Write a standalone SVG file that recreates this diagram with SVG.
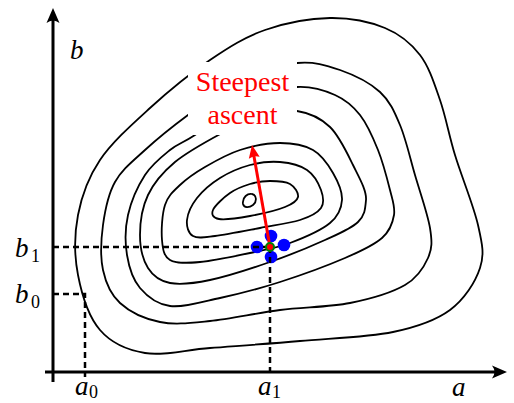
<svg xmlns="http://www.w3.org/2000/svg" width="514" height="403" viewBox="0 0 514 403">
<style>
.contour{fill:none;stroke:#000;stroke-width:1.8;stroke-linejoin:round}
.dash{fill:none;stroke:#000;stroke-width:2.5;stroke-dasharray:6 4}
.axis{fill:none;stroke:#000;stroke-width:3}
.lab{font-family:"Liberation Serif","Times New Roman",serif;font-style:italic;font-size:27px;fill:#000}
.sub{font-family:"Liberation Serif","Times New Roman",serif;font-size:18px;fill:#000}
.title{font-family:"Liberation Serif","Times New Roman",serif;font-size:28px;fill:#ff0000;text-anchor:middle}
.probe{fill:#0000ff}
</style>
<defs>
<marker id="axhead" viewBox="-8 -7 17 14" refX="0" refY="0" markerWidth="17" markerHeight="14" markerUnits="userSpaceOnUse" orient="auto"><path d="M8,0 L-7,-6.5 Q-2,0 -7,6.5 Z" fill="#000"/></marker>
<marker id="redhead" viewBox="-7 -6 15 12" refX="0" refY="0" markerWidth="15" markerHeight="12" markerUnits="userSpaceOnUse" orient="auto"><path d="M7,0 L-6,-5.5 Q-3,0 -6,5.5 Z" fill="#ff0000"/></marker>
</defs>
<g id="contours">
<path id="c7" class="contour" d="M330,18 C350,17.7 370,21.8 385,28 S410.8,43 420,55 S434.2,83.3 440,100 S448.7,134.2 455,155 S473.8,206.2 478,225 S484.7,253.8 480,268 S464.5,299.3 450,310 S418,326.8 393,332 S330.5,338.3 300,341 S235.8,346 210,348 S163.3,356 145,353 S111.2,343 100,330 S81.7,294.2 78,275 S74.3,234.2 78,215 S88,177.8 100,160 S131.7,124.7 150,108 S190.8,73 210,60 S245,37 265,30 S310,18.3 330,18 Z"/>
<path id="c6" class="contour" d="M297,63 C313.7,61.3 326.2,65.2 340,70 S370,82.8 380,92 S394.2,111.2 400,125 S410,157.8 415,175 S427.8,214.2 430,228 S432.2,248.5 428,258 S418,277.5 405,285 S370.8,298.8 350,303 S303.3,307 280,310 S230,319 210,321 S175,325 160,322 S129.5,311.7 120,303 S105.8,283 103,270 S101,239.7 103,225 S108,194.5 115,182 S132.8,161.2 145,150 S172.2,126.7 188,115 S221.8,88.7 240,80 S280.3,64.7 297,63 Z"/>
<path id="c5" class="contour" d="M297,87 C312,86.2 324.5,90.3 335,95 S352.8,105.8 360,115 S373,137.5 378,150 S387.3,179.2 390,190 S395.3,207 394,215 S390.2,230.8 382,238 S362,250.7 345,258 S300.8,275.3 280,282 S238.3,294 220,298 S183.3,307.7 170,306 S147.2,296.5 140,288 S129,267.2 127,255 S125,228.3 128,215 S138,185.8 145,175 S161.7,156.7 170,150 S182.5,143.3 195,135 S228,108 245,100 S282,87.8 297,87 Z"/>
<path id="c4" class="contour" d="M297,111 C308.7,112.8 320.7,118 330,127 S347,152.8 353,165 S366.8,190.5 366,200 S364.8,215.3 358,222 S339.7,233.3 325,240 S289.2,255.3 270,262 S226.7,276.5 210,280 S180.3,285 170,283 S153,276 148,268 S140,247.2 140,235 S142.2,207.2 148,195 S162.7,172.3 175,162 S207.8,140.7 222,133 S247.5,119.7 260,116 S285.3,109.2 297,111 Z"/>
<path id="c3" class="contour" d="M280,143 C292.2,143 304.2,145 313,150 S328.2,164.7 333,173 S342.5,191.7 342,200 S338.7,215.8 330,223 S303.3,238 290,243 S265,249.8 250,253 S213.3,260.8 200,262 S176.3,263.7 170,260 S162.8,249.2 162,240 S162,214.2 165,205 S173.3,191.3 180,185 S195,172.8 205,167 S227.5,154 240,150 S267.8,143 280,143 Z"/>
<path id="c2" class="contour" d="M280,162 C289.5,162.8 300.2,165.3 307,170 S318.7,183.7 321,190 S324.5,203 321,208 S310.2,216.7 300,220 S274.2,225.3 260,228 S226.2,234.7 215,236 S197.7,238.7 193,236 S186.3,226.3 187,220 S191.5,205 197,198 S211.2,183.5 220,178 S240,167.7 250,165 S270.5,161.2 280,162 Z"/>
<path id="c1" class="contour" d="M270,181 C276.7,181 285.3,181.3 290,184 S298.8,193.2 298,197 S293,203.8 285,207 S261,214 250,216 S225.2,220 219,219 S211.2,214.3 213,210 S223.8,197.3 230,193 S243.3,186 250,184 S263.3,181 270,181 Z"/>
<path id="c0" class="contour" d="M243,204 C242,197 248,193 252,194 C257,195 257,202 253,205 C249,208 244,208 243,204 Z"/>
</g>
<g id="label-steepest">
<rect x="188" y="62" width="109" height="73" fill="#fff"/>
<text class="title" x="242.5" y="91">Steepest</text>
<text class="title" x="242.5" y="124">ascent</text>
</g>
<g id="probes">
<circle class="probe" cx="257" cy="247" r="6.3"/>
<circle class="probe" cx="284" cy="245" r="6.3"/>
<circle class="probe" cx="271" cy="236" r="6.3"/>
<circle class="probe" cx="271" cy="257" r="6.3"/>
</g>
<g id="guides">
<path class="dash" d="M53,247 L270,247 M270,247 L270,377"/>
<path class="dash" d="M53,294 L85,294 L85,377"/>
</g>
<g id="connectors">
<path d="M270,247 L253.2,151.9" fill="none" stroke="#ff0000" stroke-width="3" marker-end="url(#redhead)"/>
</g>
<g id="current-point">
<circle cx="270" cy="247" r="4" fill="#ff0000" stroke="#008000" stroke-width="2"/>
</g>
<g id="axes">
<path class="axis" d="M53,382 L53,16" marker-end="url(#axhead)"/>
<path class="axis" d="M45,372 L499,372" marker-end="url(#axhead)"/>
</g>
<g id="labels">
<text class="lab" x="70" y="59">b</text>
<text class="lab" x="452" y="396">a</text>
<text class="lab" x="15" y="257">b</text><text class="sub" x="31" y="262">1</text>
<text class="lab" x="15" y="303">b</text><text class="sub" x="31" y="308">0</text>
<text class="lab" x="75" y="395">a</text><text class="sub" x="89" y="398">0</text>
<text class="lab" x="258" y="395">a</text><text class="sub" x="272" y="398">1</text>
</g>
</svg>
